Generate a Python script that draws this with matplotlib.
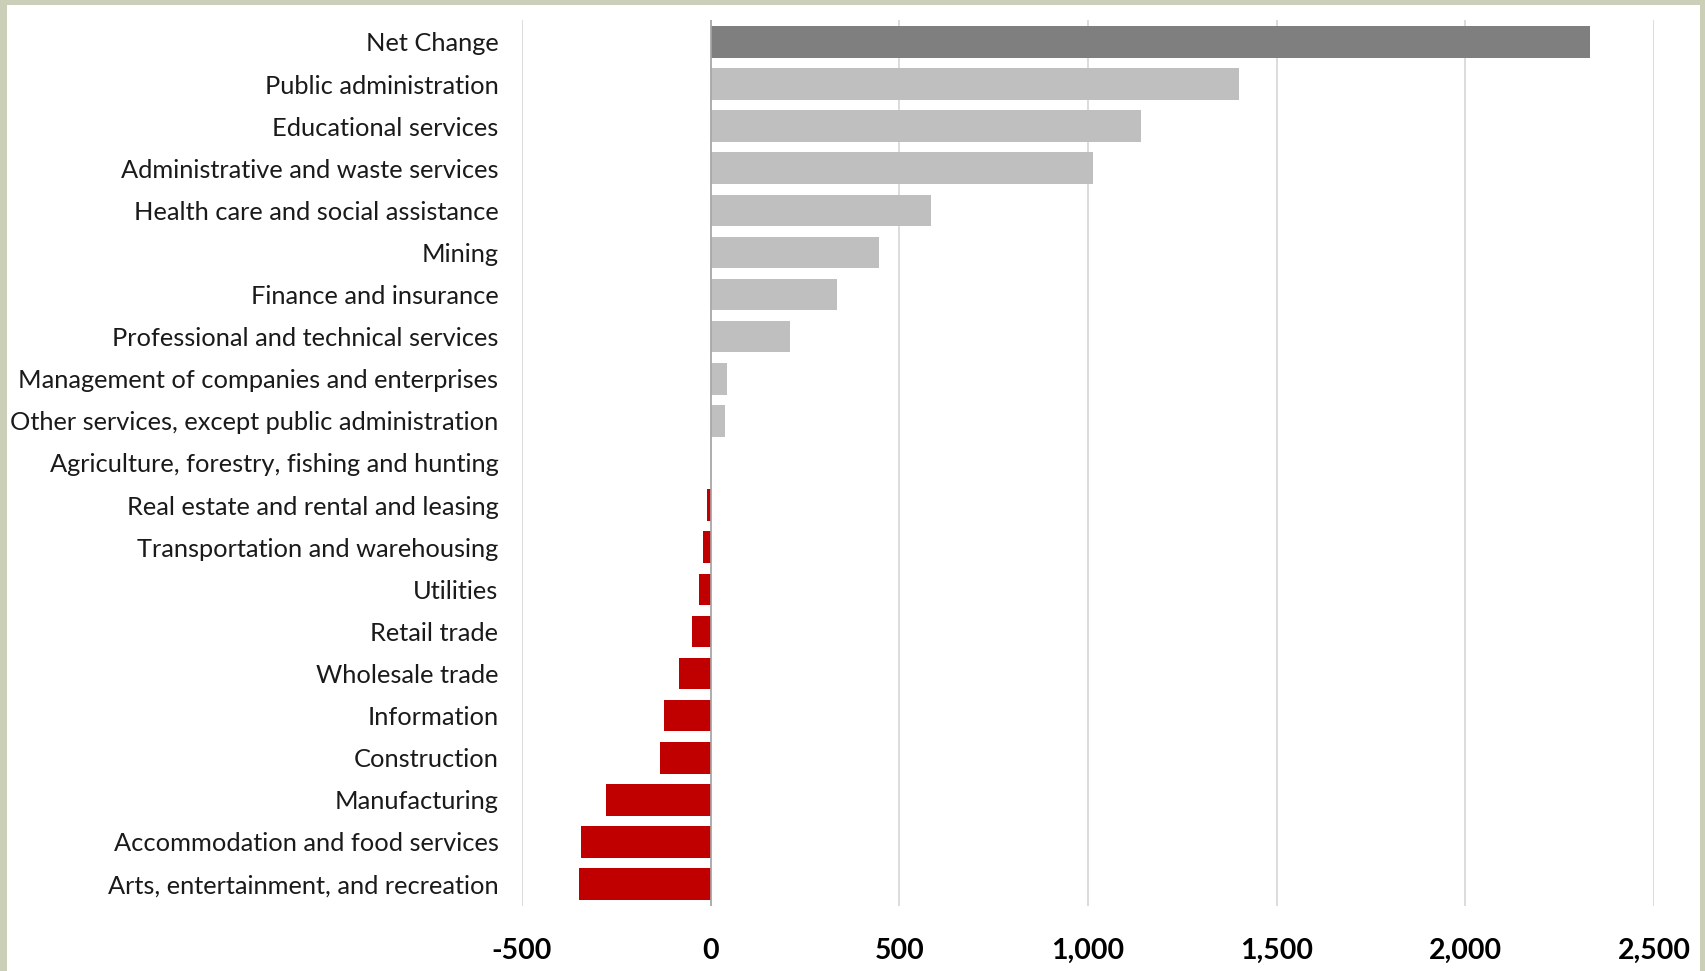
import matplotlib.pyplot as plt
from matplotlib.patches import Rectangle
from matplotlib.ticker import FuncFormatter

# industries, top to bottom
industries = [
    "Net Change",
    "Public administration",
    "Educational services",
    "Administrative and waste services",
    "Health care and social assistance",
    "Mining",
    "Finance and insurance",
    "Professional and technical services",
    "Management of companies and enterprises",
    "Other services, except public administration",
    "Agriculture, forestry, fishing and hunting",
    "Real estate and rental and leasing",
    "Transportation and warehousing",
    "Utilities",
    "Retail trade",
    "Wholesale trade",
    "Information",
    "Construction",
    "Manufacturing",
    "Accommodation and food services",
    "Arts, entertainment, and recreation",
]
changes = [2330, 1400, 1141, 1014, 585, 447, 334, 210, 43, 37, 2,
           -11, -21, -32, -49, -84, -124, -133, -277, -343, -349]
x_ticks = [-500, 0, 500, 1000, 1500, 2000, 2500]

colors = []
for name, v in zip(industries, changes):
    if name == "Net Change":
        colors.append("#7F7F7F")
    elif v < 0:
        colors.append("#C00000")
    else:
        colors.append("#BFBFBF")

fig = plt.figure(figsize=(17.05, 9.71), dpi=100)
fig.patch.set_facecolor("#CBCFB8")
fig.patches.append(Rectangle((7 / 1705, 0), 1693 / 1705, 1 - 5 / 971,
                             transform=fig.transFigure, facecolor="white",
                             edgecolor="none", zorder=-5))

ax = fig.add_axes([522 / 1705, 1 - 906 / 971, (1654 - 522) / 1705, 886 / 971])
ax.set_facecolor("none")

ypos = list(range(len(industries)))
ax.barh(ypos, changes, height=0.75, color=colors, zorder=3)

ax.set_xlim(-500, 2500)
ax.set_ylim(len(industries) - 0.48, -0.52)
ax.set_xticks(x_ticks)
ax.xaxis.set_major_formatter(FuncFormatter(lambda v, p: f"{int(v):,}"))
ax.grid(axis="x", color="#D9D9D9", linewidth=1.3, zorder=0)
ax.axvline(0, color="#A6A6A6", linewidth=1.2, zorder=4)

ax.set_yticks(ypos)
ax.set_yticklabels(industries, fontsize=18.3, family=["Lato", "DejaVu Sans"],
                   color="#1a1a1a")
for lbl in ax.get_xticklabels():
    lbl.set_fontsize(20.5)
    lbl.set_fontweight("bold")
    lbl.set_family(["Lato", "DejaVu Sans"])
ax.tick_params(axis="y", length=0, pad=17)
ax.tick_params(axis="x", length=0, pad=23)
for s in ax.spines.values():
    s.set_visible(False)

fig.savefig("out.png", dpi=100, facecolor=fig.get_facecolor())
